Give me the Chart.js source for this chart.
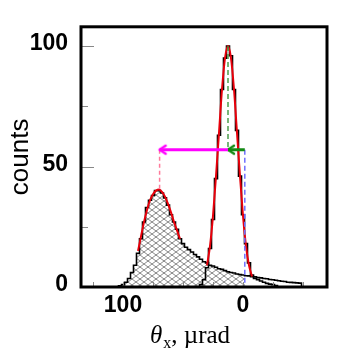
<!DOCTYPE html>
<html>
<head>
<meta charset="utf-8">
<script src="https://cdn.jsdelivr.net/npm/chart.js@4.4.0/dist/chart.umd.min.js"></script>
<style>
  body { margin: 0; background: #fff; }
  canvas { display: block; }
</style>
</head>
<body>
<canvas id="myChart" width="354" height="362"></canvas>
<script>
// hatched distribution, bin centres in µrad
var hatchX = [105, 102.5, 100, 97.5, 95, 92.5, 90, 87.5, 85, 82.5, 80, 77.5, 75, 72.5, 70, 67.5, 65, 62.5, 60, 57.5,
              55, 52.5, 50, 47.5, 45, 42.5, 40, 37.5, 35, 32.5, 30, 27.5, 25, 22.5, 20, 17.5, 15, 12.5, 10, 7.5,
              5, 2.5, 0, -2.5, -5, -7.5, -10, -12.5, -15, -17.5, -20, -22.5, -25, -27.5, -30, -32.5, -35, -37.5, -40, -42.5,
              -45, -47.5, -50];
var hatchCounts = [0, 0.5, 1, 2, 3.5, 6, 9, 14, 20, 27, 33, 36, 38, 40, 40, 39, 37, 34, 30, 27,
                   24, 20, 18, 16.5, 15.5, 14.5, 13.5, 12.5, 11.5, 10.5, 10, 9, 8.7, 8.2, 7.6, 7.3, 6.8, 6.3, 6, 5.8,
                   5.4, 5.2, 5, 4.7, 4.6, 4.3, 4.2, 3.9, 3.8, 3.5, 3.4, 3.1, 3, 2.8, 2.6, 2.4, 2.3, 2, 1.9, 1.8,
                   1.7, 1.6, 0];

// narrow peak
var peakX = [37.5, 35, 32.5, 30, 27.5, 25, 22.5, 20, 17.5, 15, 12.5, 10, 7.5, 5, 2.5, 0, -2.5, -5, -7.5, -10,
             -12.5, -15, -17.5, -20, -22.5, -25, -27.5, -30];
var peakCounts = [0, 1, 3, 8, 16, 28, 45, 63, 82, 95, 100, 96, 82, 65, 46, 30, 18, 10, 5, 3.5,
                  3, 2.5, 2, 1.5, 1.2, 1, 0.6, 0];

// red fit curves
var peakFitX = [30, 27.5, 25, 22.5, 20, 17.5, 15, 12.5, 10, 7.5, 5, 2.5, 0, -2.5, -5, -7.5];
var peakFit = [9, 17, 29.5, 46, 64, 82, 95, 100, 95, 82, 64, 46, 29.5, 17, 9, 4.4];
var hatchFitX = [87.5, 85, 82.5, 80, 77.5, 75, 72.5, 70, 67.5, 65, 62.5, 60, 57.5, 55, 52.5];
var hatchFit = [15, 21, 27, 32, 36, 38.5, 40, 40.5, 39.5, 37.5, 34.5, 31, 27, 23.5, 20];

// markers
var peakMean = 12.5, hatchMean = 69.5, zeroPos = -1.5;
var arrowLevel = 57, hatchTop = 40, peakTop = 100;

var xTicks = [125, 100, 75, 50, 25, 0, -25, -50];
var xLabels = [100, 0];
var yTicks = [0, 25, 50, 75, 100];
var yLabels = [0, 50, 100];

function pts(xs, ys) {
	return xs.map(function (x, i) { return { x: x, y: ys[i] }; });
}

var ctx = document.getElementById('myChart').getContext('2d');

function makeHatch() {
	var c = document.createElement('canvas');
	c.width = 8; c.height = 6;
	var g = c.getContext('2d');
	g.fillStyle = '#fff';
	g.fillRect(0, 0, 8, 6);
	g.strokeStyle = '#555';
	g.lineWidth = 0.7;
	g.beginPath();
	g.moveTo(0, 0); g.lineTo(8, 6);
	g.moveTo(0, 6); g.lineTo(8, 0);
	g.stroke();
	return ctx.createPattern(c, 'repeat');
}

function makeHead(color) {
	var c = document.createElement('canvas');
	c.width = 16; c.height = 16;
	var g = c.getContext('2d');
	g.strokeStyle = color;
	g.lineWidth = 2.5;
	g.lineCap = 'round';
	g.lineJoin = 'round';
	g.beginPath();
	g.moveTo(14, 4); g.lineTo(8, 8); g.lineTo(14, 12);
	g.stroke();
	return c;
}

// hatch fill stops at the zero line
var fillPts = pts(hatchX, hatchCounts).filter(function (p) { return p.x >= 0; });
fillPts.push({ x: zeroPos, y: fillPts[fillPts.length - 1].y });

var frame = {
	id: 'frame',
	afterDatasetsDraw: function (chart) {
		var c = chart.ctx, a = chart.chartArea, xs = chart.scales.x, ys = chart.scales.y;
		c.save();
		c.strokeStyle = '#888';
		c.lineWidth = 1;
		c.beginPath();
		yTicks.forEach(function (v) {
			var py = Math.round(ys.getPixelForValue(v)) + 0.5;
			var len = yLabels.indexOf(v) >= 0 ? 13 : 7;
			c.moveTo(a.left, py); c.lineTo(a.left + len, py);
		});
		xTicks.forEach(function (v) {
			var px = Math.round(xs.getPixelForValue(v)) + 0.5;
			c.moveTo(px, a.bottom); c.lineTo(px, a.bottom - 5);
		});
		c.stroke();

		c.strokeStyle = '#000';
		c.lineWidth = 3;
		c.strokeRect(a.left, a.top, a.right - a.left, a.bottom - a.top);

		// x axis title: theta_x, µrad
		var x0 = 150, base = 343;
		c.fillStyle = '#000';
		c.textAlign = 'left';
		c.textBaseline = 'alphabetic';
		c.font = 'italic 25px "Liberation Serif"';
		c.fillText('θ', x0, base);
		x0 += c.measureText('θ').width + 1;
		c.font = '16px "Liberation Serif"';
		c.fillText('x', x0, base + 5);
		x0 += c.measureText('x').width;
		c.font = '25px "Liberation Serif"';
		c.fillText(', µrad', x0, base);
		c.restore();
	}
};

var data = {
	datasets: [
		{ data: fillPts, stepped: 'middle', fill: 'origin', backgroundColor: makeHatch(), borderWidth: 0, order: 10 },
		{ data: pts(hatchX, hatchCounts), stepped: 'middle', borderColor: '#000', borderWidth: 1.6, order: 8 },
		{ data: pts(peakX, peakCounts), stepped: 'middle', borderColor: '#000', borderWidth: 1.6, order: 7 },
		{ data: pts(peakFitX, peakFit), cubicInterpolationMode: 'monotone', borderColor: '#e8000b', borderWidth: 2, order: 5 },
		{ data: pts(hatchFitX, hatchFit), cubicInterpolationMode: 'monotone', borderColor: '#e8000b', borderWidth: 2, order: 5 },
		{ data: [{ x: hatchMean, y: arrowLevel }, { x: hatchMean, y: hatchTop }], borderColor: '#ff7a9a', borderWidth: 1.5, borderDash: [4, 3], order: 3 },
		{ data: [{ x: peakMean, y: peakTop }, { x: peakMean, y: arrowLevel }], borderColor: '#2f8f2f', borderWidth: 1.3, borderDash: [5, 3], order: 3 },
		{ data: [{ x: zeroPos, y: arrowLevel }, { x: zeroPos, y: 0 }], borderColor: '#6f6fff', borderWidth: 1.5, borderDash: [5, 3], order: 3 },
		{ data: [{ x: peakMean, y: arrowLevel }, { x: hatchMean, y: arrowLevel }], borderColor: '#ff00ff', borderWidth: 3,
		  pointRadius: [0, 5], pointStyle: makeHead('#ff00ff'), order: 1 },
		{ data: [{ x: zeroPos, y: arrowLevel }, { x: peakMean, y: arrowLevel }], borderColor: '#138a13', borderWidth: 3,
		  pointRadius: [0, 5], pointStyle: makeHead('#138a13'), order: 1 }
	]
};

var options = {
	responsive: false,
	animation: false,
	events: [],
	layout: { padding: { left: 0, top: 22, right: 27, bottom: 0 } },
	elements: { point: { radius: 0 }, line: { fill: false } },
	plugins: { legend: { display: false }, tooltip: { enabled: false } },
	scales: {
		x: {
			type: 'linear',
			reverse: true,
			min: -70,
			max: 135,
			afterBuildTicks: function (s) { s.ticks = xTicks.map(function (v) { return { value: v }; }); },
			afterFit: function (s) { s.height = 75; },
			grid: { display: false, drawTicks: false },
			border: { display: false },
			ticks: {
				autoSkip: false,
				maxRotation: 0,
				padding: 5,
				color: '#000',
				font: { family: '"Liberation Sans", Arial', size: 23, weight: 'bold' },
				callback: function (v) { return xLabels.indexOf(v) >= 0 ? String(v) : ''; }
			}
		},
		y: {
			min: 0,
			max: 108,
			afterBuildTicks: function (s) { s.ticks = yTicks.map(function (v) { return { value: v }; }); },
			afterFit: function (s) { s.width = 81; },
			grid: { display: false, drawTicks: false },
			border: { display: false },
			title: {
				display: true,
				text: 'counts',
				color: '#000',
				padding: { top: 5, bottom: 0 },
				font: { family: '"Liberation Sans", Arial', size: 26 }
			},
			ticks: {
				autoSkip: false,
				padding: 13,
				labelOffset: -2,
				color: '#000',
				font: { family: '"Liberation Sans", Arial', size: 23, weight: 'bold' },
				callback: function (v) { return yLabels.indexOf(v) >= 0 ? String(v) : ''; }
			}
		}
	}
};

window.myChart = new Chart(ctx, {
	type: 'line',
	data: data,
	options: options,
	plugins: [frame]
});
</script>
</body>
</html>
